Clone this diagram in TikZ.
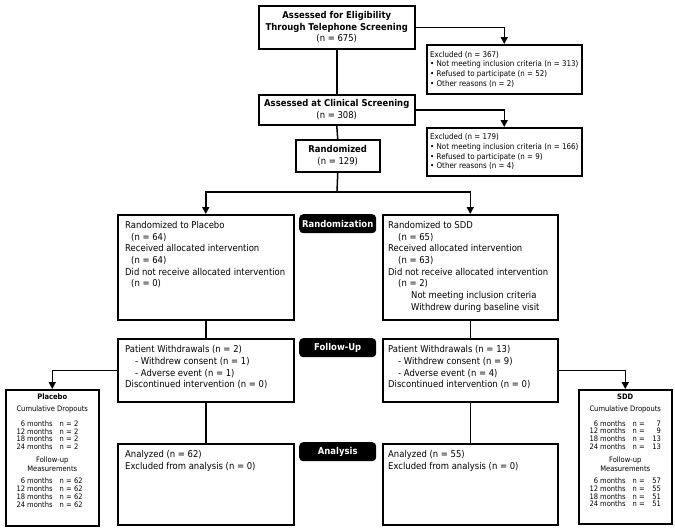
\documentclass[tikz,border=0pt]{standalone}
\usepackage{fontspec}
\setmainfont{DejaVu Sans}[FakeStretch=0.9]
\usetikzlibrary{arrows.meta}
\newcommand{\fontMain}{\fontsize{9.4}{11.7}\selectfont}
\newcommand{\fontEx}{\fontsize{7.9}{9.7}\selectfont}
\newcommand{\fontDrop}{\fontsize{7.5}{7.4}\selectfont\def\arraystretch{0.95}}
\tikzset{
  box/.style={draw, line width=1.5pt, inner sep=0pt, anchor=north west},
  txt/.style={inner sep=0pt, align=left, font=\fontMain, anchor=north west},
  tag/.style={fill=black, text=white, rounded corners=4pt, font=\fontMain\bfseries,
    minimum width=77pt, minimum height=19pt, inner sep=0pt, anchor=north west},
  conn/.style={line width=1.5pt},
  arr/.style={conn, -{Triangle[length=7pt,width=7pt]}},
}
\begin{document}
\begin{tikzpicture}[x=1pt,y=-1pt]
\fill[white] (0,0) rectangle (675,531);
\useasboundingbox (0,0) rectangle (675,531);

% top part
\node[box, minimum width=156pt, minimum height=43pt, align=center, font=\fontMain] (top) at (258,5)
  {\textbf{Assessed for Eligibility}\\\textbf{Through Telephone Screening}\\(n = 675)};
\node[box, minimum width=155pt, minimum height=49pt] (ex1) at (426,44) {};
\node[txt, font=\fontEx, anchor=west] (ex1t) at ([xshift=4pt]ex1.west)
  {Excluded (n = 367)\\• Not meeting inclusion criteria (n = 313)\\• Refused to participate (n = 52)\\• Other reasons (n = 2)};
\node[box, minimum width=156pt, minimum height=30pt, align=center, font=\fontMain] (clin) at (258,94)
  {\textbf{Assessed at Clinical Screening}\\(n = 308)};
\node[box, minimum width=155pt, minimum height=48pt] (ex2) at (426,127) {};
\node[txt, font=\fontEx, anchor=west] (ex2t) at ([xshift=4pt]ex2.west)
  {Excluded (n = 179)\\• Not meeting inclusion criteria (n = 166)\\• Refused to participate (n = 9)\\• Other reasons (n = 4)};
\node[box, minimum width=84pt, minimum height=32pt, align=center, font=\fontMain] (rand) at (295,139)
  {\textbf{Randomized}\\(n = 129)};

% randomization row
\node[box, minimum width=176pt, minimum height=105pt] (pr) at (117,214) {};
\node[txt] (prt) at ([shift={(8,7)}]pr.north west)
  {Randomized to Placebo\\\hspace*{6pt}(n = 64)\\Received allocated intervention\\\hspace*{6pt}(n = 64)\\Did not receive allocated intervention\\\hspace*{6pt}(n = 0)};
\node[box, minimum width=175pt, minimum height=105pt] (sr) at (382,214) {};
\node[txt] (srt) at ([shift={(6,7)}]sr.north west)
  {Randomized to SDD\\\hspace*{10pt}(n = 65)\\Received allocated intervention\\\hspace*{10pt}(n = 63)\\Did not receive allocated intervention\\\hspace*{10pt}(n = 2)\\\hspace*{23pt}Not meeting inclusion criteria\\\hspace*{23pt}Withdrew during baseline visit};
\node[tag] (tagR) at (299,214) {Randomization};

% follow-up row
\node[box, minimum width=176pt, minimum height=63pt] (pf) at (117,338) {};
\node[txt] (pft) at ([shift={(8,7.5)}]pf.north west)
  {Patient Withdrawals (n = 2)\\\hspace*{10pt}- Withdrew consent (n = 1)\\\hspace*{10pt}- Adverse event (n = 1)\\Discontinued intervention (n = 0)};
\node[box, minimum width=175pt, minimum height=63pt] (sf) at (382,338) {};
\node[txt] (sft) at ([shift={(6,7.5)}]sf.north west)
  {Patient Withdrawals (n = 13)\\\hspace*{10pt}- Withdrew consent (n = 9)\\\hspace*{10pt}- Adverse event (n = 4)\\Discontinued intervention (n = 0)};
\node[tag] (tagF) at (299,338) {Follow-Up};

% analysis row
\node[box, minimum width=176pt, minimum height=81pt] (pa) at (117,443) {};
\node[txt] (pat) at ([shift={(8,7)}]pa.north west)
  {Analyzed (n = 62)\\Excluded from analysis (n = 0)};
\node[box, minimum width=175pt, minimum height=81pt] (sa) at (382,443) {};
\node[txt] (sat) at ([shift={(6,7)}]sa.north west)
  {Analyzed (n = 55)\\Excluded from analysis (n = 0)};
\node[tag] (tagA) at (299,442) {Analysis};

% dropout boxes
\node[box, minimum width=93pt, minimum height=136pt] (pd) at (5,389) {};
\node[inner sep=0pt, anchor=north, font=\fontDrop] (pdt) at ([yshift=-5pt]pd.north)
  {\begin{tabular}{@{}r@{\hspace{7pt}}l@{\hspace{2.4pt}}l@{}}
   \multicolumn{3}{@{}c@{}}{\textbf{Placebo}}\\[4.2pt]
   \multicolumn{3}{@{}c@{}}{Cumulative Dropouts}\\[6.6pt]
   6 months & n = & 2\\
   12 months & n = & 2\\
   18 months & n = & 2\\
   24 months & n = & 2\\[5pt]
   \multicolumn{3}{@{}c@{}}{Follow-up}\\[1.3pt]
   \multicolumn{3}{@{}c@{}}{Measurements}\\[4.4pt]
   6 months & n = & 62\\
   12 months & n = & 62\\
   18 months & n = & 62\\
   24 months & n = & 62
   \end{tabular}};
\node[box, minimum width=93pt, minimum height=134pt] (sd) at (578,389) {};
\node[inner sep=0pt, anchor=north, font=\fontDrop] (sdt) at ([yshift=-5pt]sd.north)
  {\begin{tabular}{@{}r@{\hspace{7pt}}l@{\hspace{2.4pt}}r@{}}
   \multicolumn{3}{@{}c@{}}{\textbf{SDD}}\\[4.2pt]
   \multicolumn{3}{@{}c@{}}{Cumulative Dropouts}\\[6.6pt]
   6 months & n = & 7\\
   12 months & n = & 9\\
   18 months & n = & 13\\
   24 months & n = & 13\\[5pt]
   \multicolumn{3}{@{}c@{}}{Follow-up}\\[1.3pt]
   \multicolumn{3}{@{}c@{}}{Measurements}\\[4.4pt]
   6 months & n = & 57\\
   12 months & n = & 55\\
   18 months & n = & 51\\
   24 months & n = & 51
   \end{tabular}};

% connectors
\draw[conn] (top.south) -- (clin.north);
\draw[conn] (clin.south) -- (rand.north);
\draw[arr] (top.east) -| (ex1.north);
\draw[arr] (clin.east) -| (ex2.north);
\coordinate (br) at (337,192);
\draw[conn] (rand.south) -- (br);
\draw[arr] (br) -| (pr.north);
\draw[arr] (br) -| (sr.north);
\draw[conn] (pr.south) -- (pf.north);
\draw[conn] (pf.south) -- (pa.north);
\draw[conn] (sr.south) -- (sf.north);
\draw[conn] (sf.south) -- (sa.north);
\draw[arr] (pf.west) -| (pd.north);
\draw[arr] (sf.east) -| (sd.north);
\end{tikzpicture}
\end{document}
